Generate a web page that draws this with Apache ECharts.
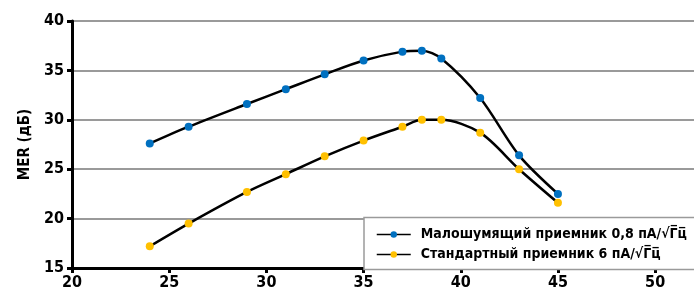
<!DOCTYPE html>
<html>
<head>
<meta charset="utf-8">
<script src="https://cdn.jsdelivr.net/npm/echarts@6/dist/echarts.min.js"></script>
<style>
  html, body { margin: 0; padding: 0; background: #fff; }
  #chart { width: 694px; height: 298px; }
</style>
</head>
<body>
<div id="chart"></div>
<script>
// данные
var lowNoiseX = [24, 26, 29, 31, 33, 35, 37, 38, 39, 41, 43, 45];
var lowNoiseMer = [27.6, 29.3, 31.6, 33.1, 34.6, 36.0, 36.9, 37.0, 36.2, 32.2, 26.4, 22.5];
var standardX = [24, 26, 29, 31, 33, 35, 37, 38, 39, 41, 43, 45];
var standardMer = [17.2, 19.5, 22.7, 24.5, 26.3, 27.9, 29.3, 30.0, 30.0, 28.7, 25.0, 21.6];
var seriesNames = ['Малошумящий приемник 0,8 пА/√Г̅ц̅', 'Стандартный приемник 6 пА/√Г̅ц̅'];
var yAxisTitle = 'MER (дБ)';

var FONT = '"DejaVu Sans Condensed", sans-serif';

function pairs(xs, ys) {
    return xs.map(function (x, i) { return [x, ys[i]]; });
}

var chart = echarts.init(document.getElementById('chart'), null, { renderer: 'canvas' });

chart.setOption({
    backgroundColor: '#fff',
    animation: false,
    grid: {
        left: 72,
        right: 0,
        top: 21,
        bottom: 30
    },
    xAxis: {
        type: 'value',
        min: 20,
        max: 52,
        interval: 5,
        axisLine: { lineStyle: { color: '#000', width: 3 } },
        axisTick: { show: true, length: 5, lineStyle: { color: '#000', width: 3 } },
        axisLabel: {
            showMaxLabel: false,
            margin: 7,
            color: '#000',
            fontFamily: FONT,
            fontWeight: 'bold',
            fontSize: 16,
            formatter: function (v) { return v % 5 === 0 ? String(v) : ''; }
        },
        splitLine: { show: false }
    },
    yAxis: {
        type: 'value',
        min: 15,
        max: 40,
        interval: 5,
        name: yAxisTitle,
        nameLocation: 'middle',
        nameGap: 39,
        nameTextStyle: {
            color: '#000',
            fontFamily: FONT,
            fontWeight: 'bold',
            fontSize: 15
        },
        axisLine: { show: true, lineStyle: { color: '#000', width: 3 } },
        axisTick: { show: true, length: 5, lineStyle: { color: '#000', width: 3 } },
        axisLabel: {
            margin: 8,
            color: '#000',
            fontFamily: FONT,
            fontWeight: 'bold',
            fontSize: 16
        },
        splitLine: { lineStyle: { color: '#9a9a9a', width: 2 } }
    },
    legend: {
        orient: 'vertical',
        left: 376,
        top: 227,
        itemWidth: 34,
        itemHeight: 8,
        itemGap: 5,
        padding: 0,
        lineStyle: { width: 1.5 },
        textStyle: {
            color: '#000',
            fontFamily: FONT,
            fontWeight: 'bold',
            fontSize: 14,
            lineHeight: 15,
            padding: [0, 0, 0, 5]
        },
        data: seriesNames
    },
    graphic: [{
        type: 'rect',
        z: 3,
        shape: { x: 364, y: 217.5, width: 340, height: 52 },
        style: { fill: '#fff', stroke: '#9a9a9a', lineWidth: 1.5 }
    }],
    series: [
        {
            name: seriesNames[0],
            type: 'line',
            smooth: 0.3,
            symbol: 'circle',
            symbolSize: 8,
            z: 4,
            lineStyle: { color: '#000', width: 2.5 },
            itemStyle: { color: '#0070c0' },
            data: pairs(lowNoiseX, lowNoiseMer)
        },
        {
            name: seriesNames[1],
            type: 'line',
            smooth: 0.3,
            symbol: 'circle',
            symbolSize: 8,
            z: 4,
            lineStyle: { color: '#000', width: 2.5 },
            itemStyle: { color: '#ffc000' },
            data: pairs(standardX, standardMer)
        }
    ]
});

window.addEventListener('resize', chart.resize);
</script>
</body>
</html>
